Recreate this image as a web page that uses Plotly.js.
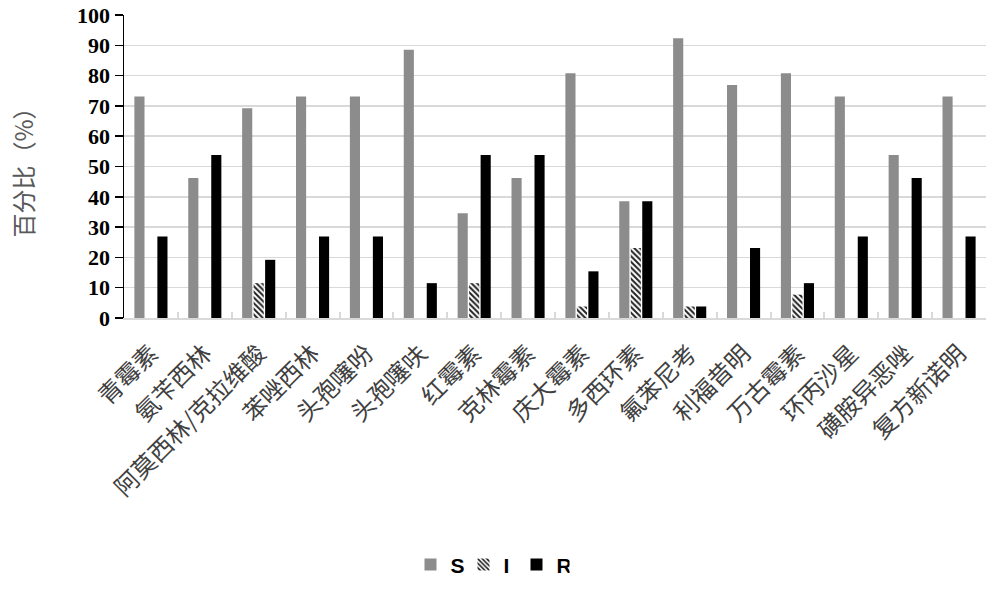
<!DOCTYPE html>
<html><head><meta charset="utf-8">
<script src="https://cdn.plot.ly/plotly-3.0.1.min.js"></script>
<style>body{margin:0;background:#fff}#c{width:1000px;height:599px}</style>
</head><body><div id="c"></div>
<script>
const categories = ["青霉素","氨苄西林","阿莫西林/克拉维酸","苯唑西林","头孢噻吩","头孢噻呋","红霉素","克林霉素","庆大霉素","多西环素","氟苯尼考","利福昔明","万古霉素","环丙沙星","磺胺异恶唑","复方新诺明"];
const sValues = [73.1,46.2,69.2,73.1,73.1,88.5,34.6,46.2,80.8,38.5,92.3,76.9,80.8,73.1,53.8,73.1];
const iValues = [0,0,11.5,0,0,0,11.5,0,3.8,23.1,3.8,0,7.7,0,0,0];
const rValues = [26.9,53.8,19.2,26.9,26.9,11.5,53.8,53.8,15.4,38.5,3.8,23.1,11.5,26.9,46.2,26.9];
const yTicks = [0,10,20,30,40,50,60,70,80,90,100];

const traces = [
  {type:'bar', name:'S', x:categories, y:sValues, marker:{color:'#8c8c8c'}},
  {type:'bar', name:'I', x:categories, y:iValues, marker:{color:'#ffffff', pattern:{shape:'\\', fgcolor:'#222222', bgcolor:'#ffffff', size:4, solidity:0.5}}},
  {type:'bar', name:'R', x:categories, y:rValues, marker:{color:'#000000'}}
];

const layout = {
  width:1000, height:599,
  margin:{l:124, r:14, t:15, b:281},
  paper_bgcolor:'#fff', plot_bgcolor:'#fff',
  barmode:'group', bargap:0.36, bargroupgap:0.12,
  showlegend:true,
  legend:{orientation:'h', xref:'container', yref:'container', x:0.49, xanchor:'center', y:0.057, yanchor:'middle',
          font:{family:'Liberation Sans, Arial, sans-serif', size:21, color:'#000', weight:'bold'}, itemwidth:30, entrywidth:8, traceorder:'normal'},
  xaxis:{type:'category', tickangle:-45, tickson:'boundaries', ticks:'inside', ticklen:6, tickwidth:2, tickcolor:'#d9d9d9',
         showline:true, linecolor:'#d9d9d9', linewidth:2, showgrid:false, zeroline:false, ticklabelstandoff:10,
         tickfont:{family:'Noto Sans CJK SC, sans-serif', size:24, color:'#404040'}, automargin:false},
  yaxis:{range:[0,100], tickvals:yTicks, ticks:'outside', ticklen:8, tickcolor:'#000', tickwidth:1.5,
         showline:true, linecolor:'#000', linewidth:1.5, showgrid:true, gridcolor:'#d9d9d9', gridwidth:1.5, zeroline:false,
         tickfont:{family:'Liberation Serif, Times New Roman, serif', size:22, color:'#000', weight:'bold'},
         title:{text:'百分比（%）', font:{family:'Noto Sans CJK SC, sans-serif', size:24, color:'#595959'}, standoff:36}, automargin:false}
};
Plotly.newPlot('c', traces, layout, {displayModeBar:false, staticPlot:true});
</script></body></html>
